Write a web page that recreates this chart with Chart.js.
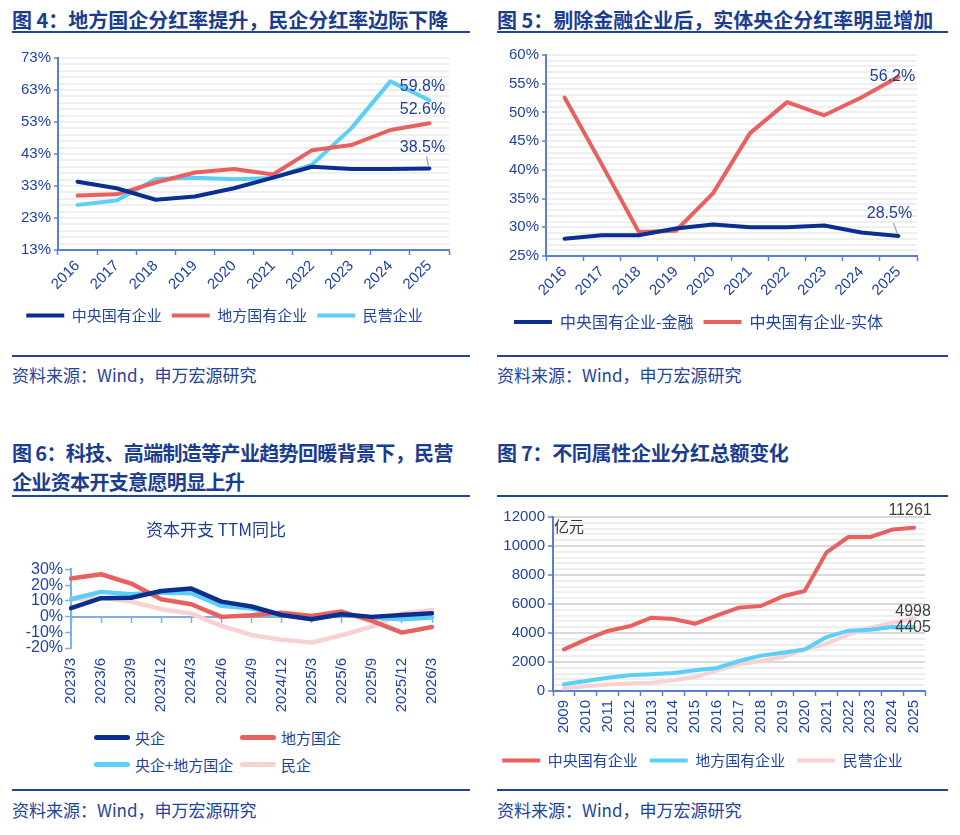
<!DOCTYPE html>
<html><head><meta charset="utf-8">
<script src="https://cdn.jsdelivr.net/npm/chart.js@4.4.1/dist/chart.umd.min.js"></script>
<style>
body{margin:0;background:#fff;width:960px;height:835px;position:relative;overflow:hidden;font-family:"Liberation Sans","Noto Sans CJK SC",sans-serif;}
.t{position:absolute;font-family:"Noto Sans CJK SC",sans-serif;font-weight:bold;font-size:20px;color:#1b3d90;line-height:29px;white-space:nowrap;}
.hr{position:absolute;height:2px;background:#2143a0;}
.src{position:absolute;font-family:"Noto Sans CJK SC",sans-serif;font-size:17px;line-height:22px;color:#24439a;white-space:nowrap;}
.cv{position:absolute;}
#lg6{position:absolute;left:94px;top:727px;display:grid;grid-template-columns:146px auto;row-gap:6px;font-family:"Noto Sans CJK SC",sans-serif;font-size:15px;color:#1f3f95;white-space:nowrap;}
#lg6 .it{display:flex;align-items:center;height:21px;white-space:nowrap;}
#lg6 .sw{width:36px;height:5px;border-radius:3px;margin-right:5px;flex:none;}
</style></head>
<body>
<div class="t" style="left:12px;top:5px;">图 4：地方国企分红率提升，民企分红率边际下降</div>
<div class="t" style="left:497px;top:5px;">图 5：剔除金融企业后，实体央企分红率明显增加</div>
<div class="hr" style="left:12px;top:31px;width:458px;"></div>
<div class="hr" style="left:497px;top:31px;width:451px;"></div>
<div class="hr" style="left:12px;top:355px;width:458px;"></div>
<div class="hr" style="left:497px;top:355px;width:451px;"></div>
<div class="src" style="left:12px;top:364px;">资料来源：Wind，申万宏源研究</div>
<div class="src" style="left:497px;top:364px;">资料来源：Wind，申万宏源研究</div>
<div class="t" style="left:12px;top:438px;letter-spacing:-0.65px;">图 6：科技、高端制造等产业趋势回暖背景下，民营<br>企业资本开支意愿明显上升</div>
<div class="t" style="left:497px;top:438px;letter-spacing:-0.3px;">图 7：不同属性企业分红总额变化</div>
<div class="hr" style="left:12px;top:495px;width:458px;"></div>
<div class="hr" style="left:497px;top:495px;width:451px;"></div>
<div class="hr" style="left:12px;top:789px;width:458px;"></div>
<div class="hr" style="left:497px;top:789px;width:451px;"></div>
<div class="src" style="left:12px;top:799px;">资料来源：Wind，申万宏源研究</div>
<div class="src" style="left:497px;top:799px;">资料来源：Wind，申万宏源研究</div>

<canvas id="c4" class="cv" width="470" height="300" style="left:0;top:40px;"></canvas>
<canvas id="c5" class="cv" width="480" height="300" style="left:480px;top:40px;"></canvas>
<canvas id="c6" class="cv" width="470" height="215" style="left:0;top:510px;"></canvas>
<div id="lg6"></div>
<canvas id="c7" class="cv" width="480" height="285" style="left:480px;top:500px;"></canvas>

<script>
// ---------- DATA ----------
const years4 = ['2016','2017','2018','2019','2020','2021','2022','2023','2024','2025'];
const central4 = [34.3, 32.3, 28.7, 29.7, 32.3, 35.6, 39.0, 38.3, 38.3, 38.5];
const local4   = [30.0, 30.4, 34.1, 37.2, 38.3, 36.6, 44.2, 45.8, 50.5, 52.6];
const private4 = [27.1, 28.5, 35.2, 35.6, 35.1, 35.5, 39.7, 51.0, 65.7, 59.8];

const years5 = ['2016','2017','2018','2019','2020','2021','2022','2023','2024','2025'];
const finance5 = [28.0, 28.6, 28.6, 29.8, 30.5, 30.0, 30.0, 30.3, 29.1, 28.5];
const real5    = [52.6, 41.0, 29.2, 29.4, 35.9, 46.4, 51.8, 49.5, 52.6, 56.2];

const quarters6 = ['2023/3','2023/6','2023/9','2023/12','2024/3','2024/6','2024/9','2024/12','2025/3','2025/6','2025/9','2025/12','2026/3'];
const central6  = [5.3, 11.7, 12.0, 16.3, 17.8, 9.5, 6.4, 1.0, -1.7, 1.5, -0.2, 1.0, 2.1];
const local6    = [24.2, 26.9, 21.0, 11.0, 7.8, -0.2, 0.8, 2.5, 0.4, 3.2, -2.8, -10.2, -6.6];
const combined6 = [11.0, 15.7, 14.2, 15.3, 14.8, 6.8, 5.1, 1.0, -1.3, 1.3, -0.6, -1.7, -0.6];
const private6  = [11.0, 12.0, 9.5, 4.7, 1.9, -5.9, -11.7, -14.8, -16.5, -11.9, -6.4, 1.9, 4.2];

const years7 = ['2009','2010','2011','2012','2013','2014','2015','2016','2017','2018','2019','2020','2021','2022','2023','2024','2025'];
const central7 = [2874, 3540, 4140, 4460, 5060, 4970, 4640, 5220, 5750, 5860, 6530, 6900, 9560, 10620, 10620, 11130, 11261];
const local7   = [460, 690, 920, 1080, 1150, 1240, 1425, 1590, 2070, 2440, 2640, 2870, 3720, 4160, 4230, 4410, 4405];
const private7 = [180, 320, 440, 510, 575, 735, 965, 1425, 1840, 2070, 2345, 2850, 3260, 3885, 4370, 4690, 4998];

// ---------- STYLE ----------
const NAVY = '#0b2f8e', RED = '#e8615f', CYAN = '#5ccff6', PINK = '#f8d2d2';
const AXIS = '#5a7fd0', TXT = '#2144a0';
const FONT = '"Liberation Sans","Noto Sans CJK SC",sans-serif';
const CJK = '"Noto Sans CJK SC","Liberation Sans",sans-serif';

const valueLabels = {
  id: 'valueLabels',
  afterDatasetsDraw(chart, args, opts) {
    const ctx = chart.ctx;
    (opts.items || []).forEach(it => {
      const pt = chart.getDatasetMeta(it.ds).data[it.i];
      const v = chart.data.datasets[it.ds].data[it.i];
      const x = pt.x + it.dx, y = pt.y + it.dy;
      ctx.save();
      if (it.leader) {
        ctx.strokeStyle = '#a0a0a0'; ctx.lineWidth = 1.2;
        ctx.beginPath(); ctx.moveTo(x + it.leader, y + 9); ctx.lineTo(pt.x - 1, pt.y - 2); ctx.stroke();
      }
      ctx.fillStyle = opts.color; ctx.font = opts.font;
      ctx.textAlign = 'center'; ctx.textBaseline = 'middle';
      ctx.fillText(opts.fmt(v), x, y);
      ctx.restore();
    });
  }
};

function ds(label, data, color, w) {
  return {label, data, borderColor: color, backgroundColor: color, borderWidth: w || 4,
    pointRadius: 0, pointHoverRadius: 0, tension: 0, borderJoinStyle: 'round', borderCapStyle: 'round', fill: false};
}
function legendOpts(size, pad) {
  return {display: true, position: 'bottom',
    labels: {usePointStyle: true, pointStyle: 'line', pointStyleWidth: 38, color: TXT,
      font: {family: CJK, size}, padding: pad}};
}

// ---------- CHART 4 ----------
const c4 = new Chart(document.getElementById('c4'), {
  type: 'line',
  data: {labels: years4, datasets: [
    ds('中央国有企业', central4, NAVY), ds('地方国有企业', local4, RED), ds('民营企业', private4, CYAN)]},
  plugins: [valueLabels],
  options: {
    responsive: false, animation: false,
    layout: {padding: {left: 0, right: 21, top: 18, bottom: 7}},
    plugins: {
      legend: legendOpts(15, 10), tooltip: {enabled: false},
      valueLabels: {color: '#1f3f98', font: '16px ' + FONT, fmt: v => v.toFixed(1) + '%',
        items: [{ds: 2, i: 9, dx: -7, dy: -14}, {ds: 1, i: 9, dx: -7, dy: -14}, {ds: 0, i: 9, dx: -7, dy: -21, leader: 4}]}
    },
    scales: {
      x: {offset: true, grid: {offset: true, drawOnChartArea: false, tickLength: 5, tickColor: AXIS, tickWidth: 1.5},
        border: {color: AXIS, width: 2},
        ticks: {color: TXT, font: {family: FONT, size: 15}, minRotation: 45, maxRotation: 45, autoSkip: false, padding: 2},
        afterFit: s => { s.height = 48; }},
      y: {min: 13, max: 73, grid: {color: '#efefef', lineWidth: 2, tickLength: 4,
          tickColor: c => ((Math.round(c.tick.value) - 13) % 10 === 0 ? AXIS : 'rgba(0,0,0,0)'), tickWidth: 1.5},
        border: {color: AXIS, width: 2},
        ticks: {stepSize: 2, autoSkip: false, color: TXT, font: {family: FONT, size: 15}, padding: 3,
          callback: v => ((Math.round(v) - 13) % 10 === 0 ? Math.round(v) + '%' : '')},
        afterFit: s => { s.width = 58; }}
    }
  }
});

// ---------- CHART 5 ----------
const c5 = new Chart(document.getElementById('c5'), {
  type: 'line',
  data: {labels: years5, datasets: [ds('中央国有企业-金融', finance5, NAVY), ds('中央国有企业-实体', real5, RED)]},
  plugins: [valueLabels],
  options: {
    responsive: false, animation: false,
    layout: {padding: {left: 0, right: 43, top: 15, bottom: 0}},
    plugins: {
      legend: legendOpts(16, 10), tooltip: {enabled: false},
      valueLabels: {color: '#1f3f98', font: '16px ' + FONT, fmt: v => v.toFixed(1) + '%',
        items: [{ds: 1, i: 9, dx: -6, dy: 0}, {ds: 0, i: 9, dx: -9, dy: -22, leader: 4}]}
    },
    scales: {
      x: {offset: true, grid: {offset: true, drawOnChartArea: false, tickLength: 5, tickColor: AXIS, tickWidth: 1.5},
        border: {color: AXIS, width: 2},
        ticks: {color: TXT, font: {family: FONT, size: 15}, minRotation: 45, maxRotation: 45, autoSkip: false, padding: 2},
        afterFit: s => { s.height = 48; }},
      y: {min: 25, max: 60, grid: {color: '#efefef', lineWidth: 2, tickLength: 4,
          tickColor: c => (Math.round(c.tick.value) % 5 === 0 ? AXIS : 'rgba(0,0,0,0)'), tickWidth: 1.5},
        border: {color: AXIS, width: 2},
        ticks: {stepSize: 1, autoSkip: false, color: TXT, font: {family: FONT, size: 15}, padding: 3,
          callback: v => (Math.round(v) % 5 === 0 ? Math.round(v) + '%' : '')},
        afterFit: s => { s.width = 66; }}
    }
  }
});

// ---------- CHART 6 ----------
const AX6 = '#7db0e8';
const c6 = new Chart(document.getElementById('c6'), {
  type: 'line',
  data: {labels: quarters6, datasets: [
    ds('央企', central6, NAVY, 4.5), ds('地方国企', local6, RED, 4.5), ds('央企+地方国企', combined6, CYAN, 4.5), ds('民企', private6, PINK, 4.5)]},
  options: {
    responsive: false, animation: false,
    layout: {padding: {left: 0, right: 38, top: 0, bottom: 0}},
    plugins: {
      legend: {display: false}, tooltip: {enabled: false},
      title: {display: true, text: '资本开支 TTM同比', color: '#1f3f95', font: {family: CJK, size: 17, weight: 'normal'},
        padding: {top: 9, bottom: 30}}
    },
    scales: {
      x: {position: {y: 0}, offset: false, grid: {drawOnChartArea: false, tickLength: 5, tickColor: AX6, tickWidth: 1.5},
        border: {color: AX6, width: 2}, ticks: {display: false}},
      x2: {type: 'category', labels: quarters6, position: 'bottom', offset: false, display: true,
        grid: {display: false, drawTicks: false}, border: {display: false},
        ticks: {color: TXT, font: {family: FONT, size: 15}, minRotation: 90, maxRotation: 90, autoSkip: false, padding: 10},
        afterFit: s => { s.height = 77; }},
      y: {min: -20, max: 30, grid: {drawOnChartArea: false, tickLength: 6, tickColor: AX6, tickWidth: 1.5},
        border: {color: AX6, width: 2},
        ticks: {stepSize: 10, autoSkip: false, color: TXT, font: {family: FONT, size: 16}, padding: 2, callback: v => v + '%'},
        afterFit: s => { s.width = 71; }}
    }
  }
});
// HTML legend for chart 6 built from the chart's datasets
(function () {
  const box = document.getElementById('lg6');
  c6.data.datasets.forEach(d => {
    const it = document.createElement('div'); it.className = 'it';
    const sw = document.createElement('span'); sw.className = 'sw'; sw.style.background = d.borderColor;
    const tx = document.createElement('span'); tx.textContent = d.label;
    it.appendChild(sw); it.appendChild(tx); box.appendChild(it);
  });
})();

// ---------- CHART 7 ----------
const c7 = new Chart(document.getElementById('c7'), {
  type: 'line',
  data: {labels: years7, datasets: [
    ds('中央国有企业', central7, RED), ds('地方国有企业', local7, CYAN), ds('民营企业', private7, PINK)]},
  plugins: [valueLabels, {
    id: 'unit', afterDraw(chart) {
      const ctx = chart.ctx; ctx.save(); ctx.fillStyle = '#333'; ctx.font = '15px ' + CJK;
      ctx.textBaseline = 'middle'; ctx.fillText('亿元', chart.chartArea.left + 1, chart.chartArea.top + 9); ctx.restore();
    }}],
  options: {
    responsive: false, animation: false,
    layout: {padding: {left: 0, right: 35, top: 17, bottom: 7}},
    plugins: {
      legend: legendOpts(15, 12), tooltip: {enabled: false},
      valueLabels: {color: '#404040', font: '16px ' + FONT, fmt: v => String(v),
        items: [{ds: 0, i: 16, dx: -4, dy: -17}, {ds: 2, i: 16, dx: -1, dy: -7}, {ds: 1, i: 16, dx: -1, dy: 0}]}
    },
    scales: {
      x: {offset: true, grid: {offset: true, drawOnChartArea: false, tickLength: 5, tickColor: AXIS, tickWidth: 1.5},
        border: {color: AXIS, width: 2},
        ticks: {color: TXT, font: {family: FONT, size: 15}, minRotation: 90, maxRotation: 90, autoSkip: false, padding: 4},
        afterFit: s => { s.height = 50; }},
      y: {min: 0, max: 12000, grid: {color: c => (c.tick.value % 2000 === 0 ? '#d9d9d9' : '#eeeeee'), lineWidth: 2, tickLength: 5,
          tickColor: c => (c.tick.value % 2000 === 0 ? AXIS : 'rgba(0,0,0,0)'), tickWidth: 1.5},
        border: {color: AXIS, width: 2},
        ticks: {stepSize: 400, autoSkip: false, color: TXT, font: {family: FONT, size: 15}, padding: 3,
          callback: v => (v % 2000 === 0 ? String(v) : '')},
        afterFit: s => { s.width = 73; }}
    }
  }
});
</script>
</body></html>
